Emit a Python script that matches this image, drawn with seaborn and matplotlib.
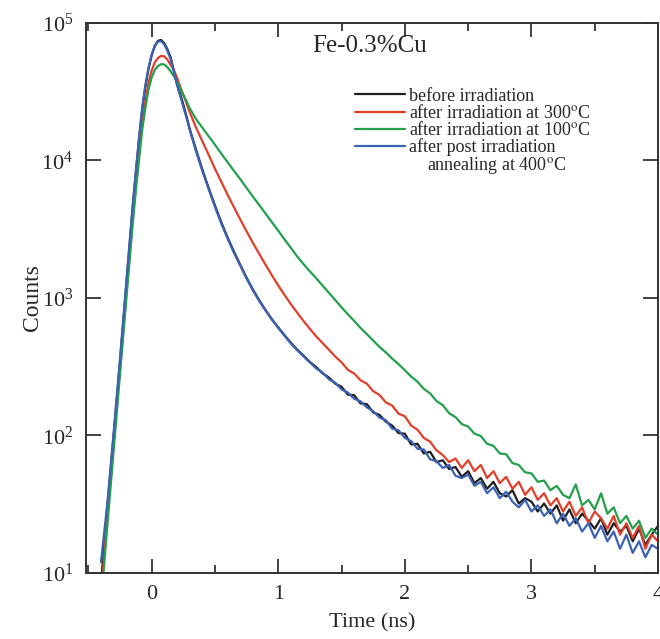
import matplotlib
matplotlib.use("Agg")
import matplotlib.pyplot as plt
import numpy as np
import pandas as pd
import seaborn as sns
from matplotlib.lines import Line2D
from matplotlib.ticker import NullLocator, MultipleLocator

# ---------------- data ----------------
time_ns = [-0.40, -0.35, -0.30, -0.25, -0.20, -0.15,
           -0.125, -0.10, -0.075, -0.05, -0.025, 0.00, 0.025, 0.05, 0.075,
           0.10, 0.125, 0.15, 0.175, 0.20, 0.225, 0.25, 0.275, 0.30,
           0.35, 0.40, 0.45, 0.50, 0.55, 0.60, 0.65, 0.70, 0.75, 0.80,
           0.85, 0.90, 0.95, 1.00, 1.05, 1.10, 1.15, 1.20, 1.25, 1.30,
           1.35, 1.40, 1.45, 1.50,
           1.55, 1.60, 1.65, 1.70, 1.75, 1.80, 1.85, 1.90, 1.95, 2.00,
           2.05, 2.10, 2.15, 2.20, 2.25, 2.30, 2.35, 2.40, 2.45, 2.50,
           2.55, 2.60, 2.65, 2.70, 2.75, 2.80, 2.85, 2.90, 2.95, 3.00,
           3.05, 3.10, 3.15, 3.20, 3.25, 3.30, 3.35, 3.40, 3.45, 3.50,
           3.55, 3.60, 3.65, 3.70, 3.75, 3.80, 3.85, 3.90, 3.95, 4.00]

before = [8.5, 30, 100, 340, 1250, 4500,
          8000, 14000, 23000, 34000, 46000, 58000, 68000, 74000, 75000,
          71000, 64000, 56000, 45000, 36000, 30500, 25500, 21000, 17000,
          12000, 8600, 6300, 4700, 3550, 2750, 2170, 1740, 1400, 1150,
          960, 815, 700, 610, 535, 472, 420, 380, 342, 314,
          283, 264, 238, 226,
          198, 196, 171, 169, 147, 141, 126, 118, 104, 103,
          86, 87, 74, 76, 64, 66, 57, 59, 50, 55,
          45, 49, 41, 46, 38, 36, 40, 32, 35, 33,
          28, 32, 27, 31, 24, 29, 23, 27, 24, 21,
          25, 19, 23, 20, 22, 17, 21, 16, 19, 22]

irr300 = [7, 25, 85, 300, 1050, 3700,
          6500, 11000, 18000, 27000, 36500, 45000, 51500, 55500, 57500,
          57000, 54000, 49500, 45500, 40000, 34500, 30000, 26000, 22500,
          17400, 13800, 11000, 8700, 7000, 5620, 4570, 3720, 3050, 2510,
          2090, 1740, 1460, 1230, 1050, 900, 780, 680, 595, 525,
          470, 420, 375, 340,
          300, 282, 252, 238, 210, 197, 174, 165, 144, 138,
          118, 110, 96, 90, 78, 72, 64, 68, 58, 66,
          55, 61, 49, 55, 45, 50, 41, 46, 37, 42,
          34, 38, 31, 35, 28, 33, 26, 30, 23, 28,
          25, 21, 26, 19, 23, 18, 22, 15, 19, 17]

irr100 = [6, 22, 78, 280, 980, 3400,
          6000, 10000, 16500, 24000, 32500, 40000, 45500, 48500, 50000,
          49800, 47500, 44500, 41000, 37500, 33500, 30000, 27000, 24000,
          20000, 17300, 15000, 13000, 11200, 9700, 8400, 7300, 6300, 5450,
          4730, 4100, 3550, 3080, 2660, 2310, 2000, 1760, 1560, 1390,
          1230, 1090, 965, 855,
          760, 680, 605, 545, 490, 440, 402, 362, 330, 298,
          268, 246, 218, 202, 178, 166, 145, 136, 121, 116,
          103, 99, 87, 84, 74, 73, 63, 61, 54, 53,
          46, 47, 40, 43, 37, 35, 44, 31, 34, 29,
          38, 27, 30, 23, 26, 21, 24, 18, 21, 19]

anneal400 = [12, 32, 105, 360, 1300, 4700,
             8300, 14500, 24000, 35000, 47000, 58500, 68000, 73000, 73500,
             69500, 62500, 54500, 44500, 35500, 29500, 24500, 20500, 16800,
             11700, 8400, 6200, 4600, 3480, 2700, 2130, 1720, 1385, 1135,
             950, 810, 694, 605, 530, 466, 416, 375, 340, 307,
             287, 256, 242, 216,
             205, 185, 177, 160, 150, 135, 129, 112, 109, 96,
             91, 80, 79, 67, 65, 58, 61, 51, 49, 52,
             43, 46, 38, 42, 35, 39, 33, 30, 34, 28,
             31, 26, 29, 23, 27, 22, 25, 20, 23, 18,
             22, 17, 20, 15, 19, 14, 17, 13, 16, 15]

series_names = ["before irradiation",
                "after irradiation at 300$^{\\rm o}$C",
                "after irradiation at 100$^{\\rm o}$C",
                "after post irradiation"]
extra_label = "    annealing at 400$^{\\rm o}$C"
title_text = "Fe-0.3%Cu"
x_ticks = [0, 1, 2, 3, 4]
y_ticks = [1e1, 1e2, 1e3, 1e4, 1e5]

# ---------------- style ----------------
sns.set_theme(style="ticks")
plt.rcParams["font.family"] = ["Liberation Serif", "DejaVu Serif"]
plt.rcParams["mathtext.fontset"] = "stix"

colors = ["#1e1e1e", "#e23f2a", "#23a04c", "#3b62b4"]

frames = []
for name, vals in zip(series_names, [before, irr300, irr100, anneal400]):
    frames.append(pd.DataFrame({"time": time_ns, "counts": vals, "series": name}))
df = pd.concat(frames, ignore_index=True)

fig = plt.figure(figsize=(6.6, 6.39), dpi=100)
ax = fig.add_axes([0.130, 0.1033, 0.867, 0.861])

sns.lineplot(data=df, x="time", y="counts", hue="series", hue_order=series_names,
             palette=colors, estimator=None, sort=False, linewidth=1.6,
             legend=False, ax=ax)

ax.set_yscale("log")
ax.set_xlim(-0.52, 4.0)
ax.set_ylim(10, 1e5)
ax.set_xticks(x_ticks)
ax.xaxis.set_minor_locator(MultipleLocator(0.5))
ax.set_yticks(y_ticks)
ax.yaxis.set_minor_locator(NullLocator())

for s in ax.spines.values():
    s.set_linewidth(1.4)
    s.set_color("#333333")

ax.tick_params(which="both", direction="in", top=True, right=True,
               color="#333333", width=1.3)
ax.tick_params(which="major", length=10, labelsize=16, pad=9)
ax.tick_params(which="minor", length=6)
ax.tick_params(axis="y", which="major", length=11)

ax.set_xlabel("Time (ns)", fontsize=16, labelpad=6)
ax.set_ylabel("Counts", fontsize=17, labelpad=-1)

ax.text(0.395, 0.958, title_text, transform=ax.transAxes, fontsize=18,
        ha="left", va="center")

handles = [Line2D([], [], color=c, lw=1.6) for c in colors]
handles.append(Line2D([], [], color="none", lw=0))
labels = series_names + [extra_label]
leg = ax.legend(handles, labels, loc="upper left", bbox_to_anchor=(0.47, 0.882),
                frameon=False, fontsize=13, handlelength=2.8, handletextpad=0.2,
                labelspacing=-0.05, borderpad=0, borderaxespad=0)

fig.savefig("out.png", dpi=100)
